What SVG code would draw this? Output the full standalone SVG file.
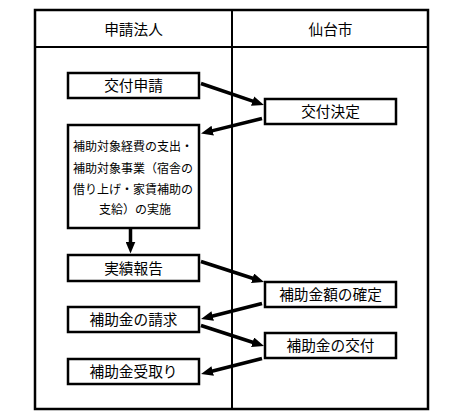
<svg xmlns="http://www.w3.org/2000/svg" width="459" height="414" viewBox="0 0 459 414">
<style>
.frame{fill:none;stroke:#000;stroke-width:2.5}
.line{fill:none;stroke:#000;stroke-width:2}
.box{fill:#fff;stroke:#000;stroke-width:2.5}
.t{font-family:"Noto Sans CJK JP","Noto Sans CJK SC",sans-serif;font-size:14.67px;fill:#000;text-anchor:middle}
.s{font-family:"Noto Sans CJK JP","Noto Sans CJK SC",sans-serif;font-size:12px;fill:#000}
.arr{fill:none;stroke:#000;stroke-width:3.5;marker-end:url(#ah)}
</style>
<defs>
<marker id="ah" markerUnits="userSpaceOnUse" markerWidth="12" markerHeight="10" refX="4" refY="5" orient="auto">
<path d="M0,0 L12,5 L0,10 z" fill="#000"/>
</marker>
</defs>
<g id="frame">
<rect class="frame" x="35" y="10" width="393" height="399"/>
<line class="line" x1="232" y1="10" x2="232" y2="409"/>
<line class="line" x1="35" y1="47" x2="428" y2="47"/>
<text class="t" x="133.5" y="34.5">申請法人</text>
<text class="t" x="330.5" y="34.5">仙台市</text>
</g>
<g id="connectors">
<line class="arr" x1="201" y1="83.5" x2="256.4" y2="102.4"/>
<line class="arr" x1="262" y1="118.5" x2="208.8" y2="131.6"/>
<line class="arr" x1="130.5" y1="228" x2="130.5" y2="245.5"/>
<line class="arr" x1="201" y1="261.5" x2="256.4" y2="279.5"/>
<line class="arr" x1="262" y1="303.5" x2="208.8" y2="317"/>
<line class="arr" x1="201" y1="325.5" x2="256.4" y2="343.5"/>
<line class="arr" x1="262" y1="358.5" x2="208.8" y2="372"/>
</g>
<g id="n1">
<rect class="box" x="68" y="73" width="131" height="25"/>
<text class="t" x="133.5" y="91">交付申請</text>
</g>
<g id="n2">
<rect class="box" x="265" y="99" width="131" height="25"/>
<text class="t" x="330.5" y="117">交付決定</text>
</g>
<g id="n3">
<rect class="box" x="68" y="125" width="131" height="103"/>
<text class="s" x="73" y="150.5">補助対象経費の支出・</text>
<text class="s" x="73" y="172.5">補助対象事業（宿舎の</text>
<text class="s" x="73" y="194">借り上げ・家賃補助の</text>
<text class="s" x="99" y="214">支給）の実施</text>
</g>
<g id="n4">
<rect class="box" x="68" y="255" width="131" height="26"/>
<text class="t" x="133.5" y="273.5">実績報告</text>
</g>
<g id="n5">
<rect class="box" x="265" y="282" width="131" height="25"/>
<text class="t" x="330.5" y="300">補助金額の確定</text>
</g>
<g id="n6">
<rect class="box" x="68" y="307" width="131" height="25"/>
<text class="t" x="133.5" y="325">補助金の請求</text>
</g>
<g id="n7">
<rect class="box" x="265" y="333" width="131" height="25"/>
<text class="t" x="330.5" y="351">補助金の交付</text>
</g>
<g id="n8">
<rect class="box" x="68" y="359" width="131" height="25"/>
<text class="t" x="133.5" y="377">補助金受取り</text>
</g>
</svg>
